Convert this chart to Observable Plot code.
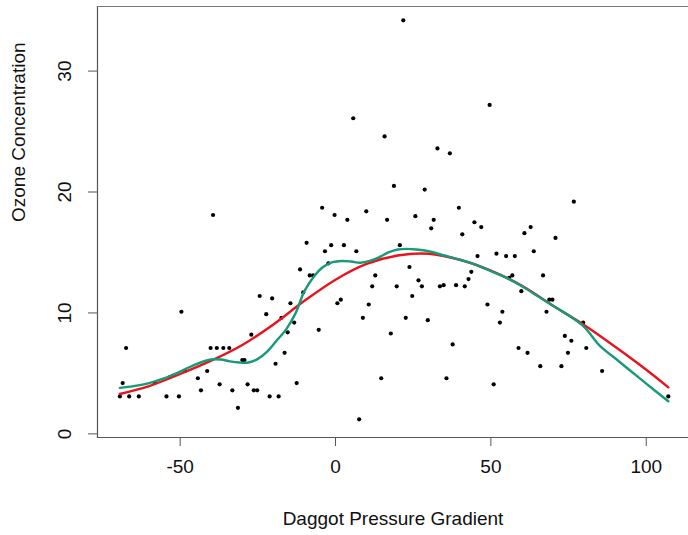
<!DOCTYPE html>
<html><head><meta charset="utf-8">
<script src="https://cdn.jsdelivr.net/npm/d3@7"></script>
<script src="https://cdn.jsdelivr.net/npm/@observablehq/plot@0.6"></script>
<style>
body{margin:0;background:#fff;}
#chart svg{font-family:"Liberation Sans",Arial,Helvetica,sans-serif;}
</style>
</head><body><div id="chart"></div>
<script>
// Daggot pressure gradient (x) and ozone concentration (y)
const dpg = [-69.4,-68.5,-67.4,-66.4,-63.3,-58.2,-54.4,-53.3,-52.4,-50.4,-49.6,-48.4,-44.3,-43.3,-41.3,-40.2,-39.4,-38.2,-37.3,-36.1,-34.2,-33.2,-31.4,-30.0,-29.3,-28.3,-27.1,-26.3,-25.2,-24.4,-22.3,-21.2,-20.4,-19.3,-18.3,-17.4,-16.4,-15.4,-14.5,-13.3,-12.5,-11.4,-10.4,-9.3,-8.3,-7.2,-5.4,-4.3,-3.4,-2.3,-1.4,-0.3,0.6,1.7,2.7,3.8,5.7,6.7,7.6,8.8,9.9,10.7,11.8,12.8,14.7,15.8,16.6,17.8,18.8,19.7,20.7,21.8,22.6,23.8,24.7,25.7,26.7,27.8,28.7,29.7,30.8,31.6,32.8,33.6,34.8,35.7,36.8,37.7,38.8,39.7,40.8,41.6,42.8,43.7,44.7,45.7,46.9,48.9,49.6,50.9,51.8,52.9,53.7,54.9,55.9,56.9,57.7,58.9,59.8,60.8,61.8,62.8,63.8,65.9,66.8,67.9,68.8,69.8,70.8,72.7,73.8,74.8,75.9,76.7,79.7,80.7,85.8,107.1];
const ozone = [3.1,4.2,7.1,3.1,3.1,4.2,3.1,4.7,4.8,3.1,10.1,5.2,4.6,3.6,5.2,7.1,18.1,7.1,4.1,7.1,7.1,3.6,2.15,6.1,6.1,4.1,8.2,3.6,3.6,11.4,9.9,3.1,11.2,5.8,3.1,9.6,6.7,8.4,10.8,9.2,4.2,13.6,11.7,15.8,13.1,13.1,8.6,18.7,15.1,14.1,15.6,18.1,10.8,11.1,15.6,17.7,26.1,15.1,1.2,9.6,18.4,10.7,12.2,13.1,4.6,24.6,17.7,8.3,20.5,12.2,15.6,34.2,9.6,13.8,11.4,18.0,12.7,12.2,20.2,9.4,17.0,17.7,23.6,12.2,12.3,4.6,23.2,7.4,12.3,18.7,16.5,12.2,12.8,13.4,17.5,14.7,17.1,10.7,27.2,4.1,14.9,9.2,10.1,14.7,12.9,13.1,14.7,7.1,11.8,16.6,6.7,17.1,15.1,5.6,13.1,10.1,11.1,11.1,16.2,5.6,8.1,6.7,7.7,19.2,9.2,7.1,5.2,3.1];

// smooth fits (red: smoother, green: wigglier)
const redX = [-69.4,-60,-50,-40,-30,-20,-10,0,10,20,30,40,50,60,70,80,90,100,107.1];
const redY = [3.3,3.95,4.95,6.05,7.35,9.05,11.0,12.75,14.05,14.75,14.9,14.4,13.5,12.25,10.6,9.0,7.2,5.3,3.85];
const greenX = [-69.4,-65,-60,-55,-50,-45,-40,-37,-34,-31,-28,-25,-22,-19,-16,-13,-10,-7,-4,-1,2,5,8,11,14,17,20,23,26,30,35,40,45,50,55,60,65,70,75,80,85,90,95,100,107.1];
const greenY = [3.8,3.95,4.2,4.6,5.15,5.75,6.15,6.15,6.0,5.9,5.9,6.2,6.8,7.7,8.6,9.9,11.8,13.0,13.8,14.2,14.3,14.25,14.15,14.3,14.6,15.0,15.25,15.3,15.25,15.1,14.75,14.4,14.0,13.45,12.9,12.2,11.4,10.6,9.8,8.85,7.3,6.25,5.2,4.15,2.7];

const xTicks = [-50,0,50,100];
const yTicks = [0,10,20,30];

const pts = dpg.map((x,i)=>({x, y: ozone[i]}));
const red = redX.map((x,i)=>({x, y: redY[i]}));
const green = greenX.map((x,i)=>({x, y: greenY[i]}));

const FS = 19;
const fmt = d => String(d);
const chart = Plot.plot({
  width: 688, height: 535,
  marginLeft: 97, marginRight: 0, marginTop: 6, marginBottom: 98,
  style: {fontSize: FS + "px", fontFamily: "'Liberation Sans', Arial, Helvetica, sans-serif", color: "#111", background: "#fff"},
  x: {domain: [-76.6, 113.6]},
  y: {domain: [-0.3, 35.34]},
  marks: [
    Plot.frame({anchor: "left", stroke: "#555", strokeWidth: 1.2}),
    Plot.frame({anchor: "top", stroke: "#777", strokeWidth: 1.2}),
    Plot.frame({anchor: "bottom", stroke: "#555", strokeWidth: 1.2}),
    Plot.axisX({ticks: xTicks, tickFormat: fmt, tickSize: 9, tickPadding: 13, label: null, stroke: "#555", fontSize: FS}),
    Plot.axisY({ticks: yTicks, tickFormat: fmt, tickSize: 9, tickPadding: 18, tickRotate: -90, label: null, stroke: "#555", fontSize: FS}),
    Plot.text(["Daggot Pressure Gradient"], {frameAnchor: "bottom", dy: 87, lineAnchor: "bottom", fontSize: FS, fill: "#111"}),
    Plot.text(["Ozone Concentration"], {frameAnchor: "left", dx: -73, rotate: -90, lineAnchor: "bottom", fontSize: FS, fill: "#111"}),
    Plot.dot(pts, {x: "x", y: "y", r: 2.1, fill: "#000", stroke: "none"}),
    Plot.line(red, {x: "x", y: "y", stroke: "#e8141c", strokeWidth: 2.4, curve: "catmull-rom"}),
    Plot.line(green, {x: "x", y: "y", stroke: "#169a78", strokeWidth: 2.4, curve: "catmull-rom"})
  ]
});
document.getElementById("chart").appendChild(chart);
</script>
</body></html>
